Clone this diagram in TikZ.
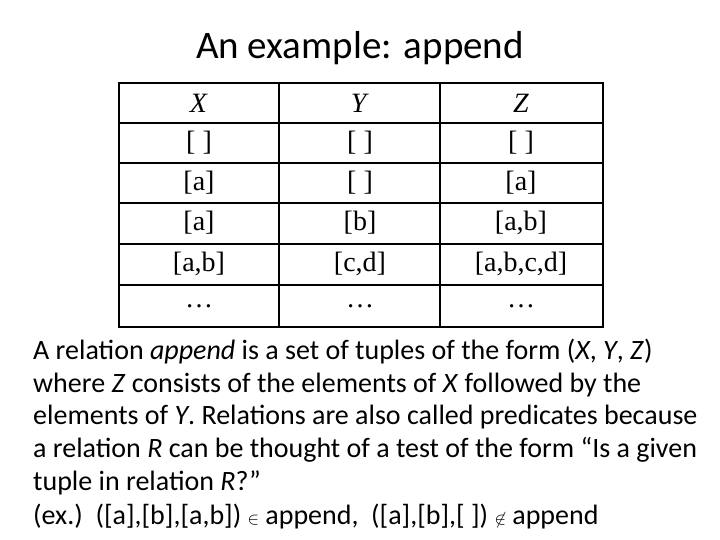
\documentclass[tikz,border=0pt]{standalone}
\usepackage{fontspec}
\setmainfont{Carlito}
\newfontfamily\tabfont{Liberation Serif}
\begin{document}
\begin{tikzpicture}[x=1pt,y=-1pt,
  cell/.style={font=\tabfont\fontsize{28}{30}\selectfont,anchor=center},
  body/.style={font=\fontsize{28}{30}\selectfont,anchor=west,inner sep=0pt}]
\useasboundingbox (0,0) rectangle (720,540);
\node[font=\fontsize{39}{42}\selectfont] (title) at (360,48) {An example: append};
\draw[line width=1.5pt] (119,83) rectangle (603,327);
\foreach \yy in {123,163,203,244,285} \draw[line width=1.2pt] (119,\yy) -- (603,\yy);
\foreach \xx in {279,440} \draw[line width=1.2pt] (\xx,83) -- (\xx,327);
\foreach \r/\yy/\a/\b/\c in {0/103/{\textit{X}}/{\textit{Y}}/{\textit{Z}},1/143/{[ ]}/{[ ]}/{[ ]},2/183/{[a]}/{[ ]}/{[a]},3/223/{[a]}/{[b]}/{[a,b]},4/264/{[a,b]}/{[c,d]}/{[a,b,c,d]},5/306/{\dots}/{\dots}/{\dots}}{
  \node[cell] (x\r) at (199,\yy) {\a};
  \node[cell] (y\r) at (360,\yy) {\b};
  \node[cell] (z\r) at (521,\yy) {\c};
}
\node[body] (l1) at (33,352) {A relation \textit{append} is a set of tuples of the form (\textit{X}, \textit{Y}, \textit{Z})};
\node[body] (l2) at (33,385) {where \textit{Z} consists of the elements of \textit{X} followed by the};
\node[body] (l3) at (33,417) {elements of \textit{Y}. Relations are also called predicates because};
\node[body] (l4) at (33,450) {a relation \textit{R} can be thought of a test of the form “Is a given};
\node[body] (l5) at (33,483) {tuple in relation \textit{R}?”};
\node[body] (l6) at (33,517) {(ex.)\ \ ([a],[b],[a,b]) {\fontsize{18}{20}\selectfont$\in$} append,\ \ ([a],[b],[ ])\ {\fontsize{18}{20}\selectfont$\not\in$}\ append};
\end{tikzpicture}
\end{document}
